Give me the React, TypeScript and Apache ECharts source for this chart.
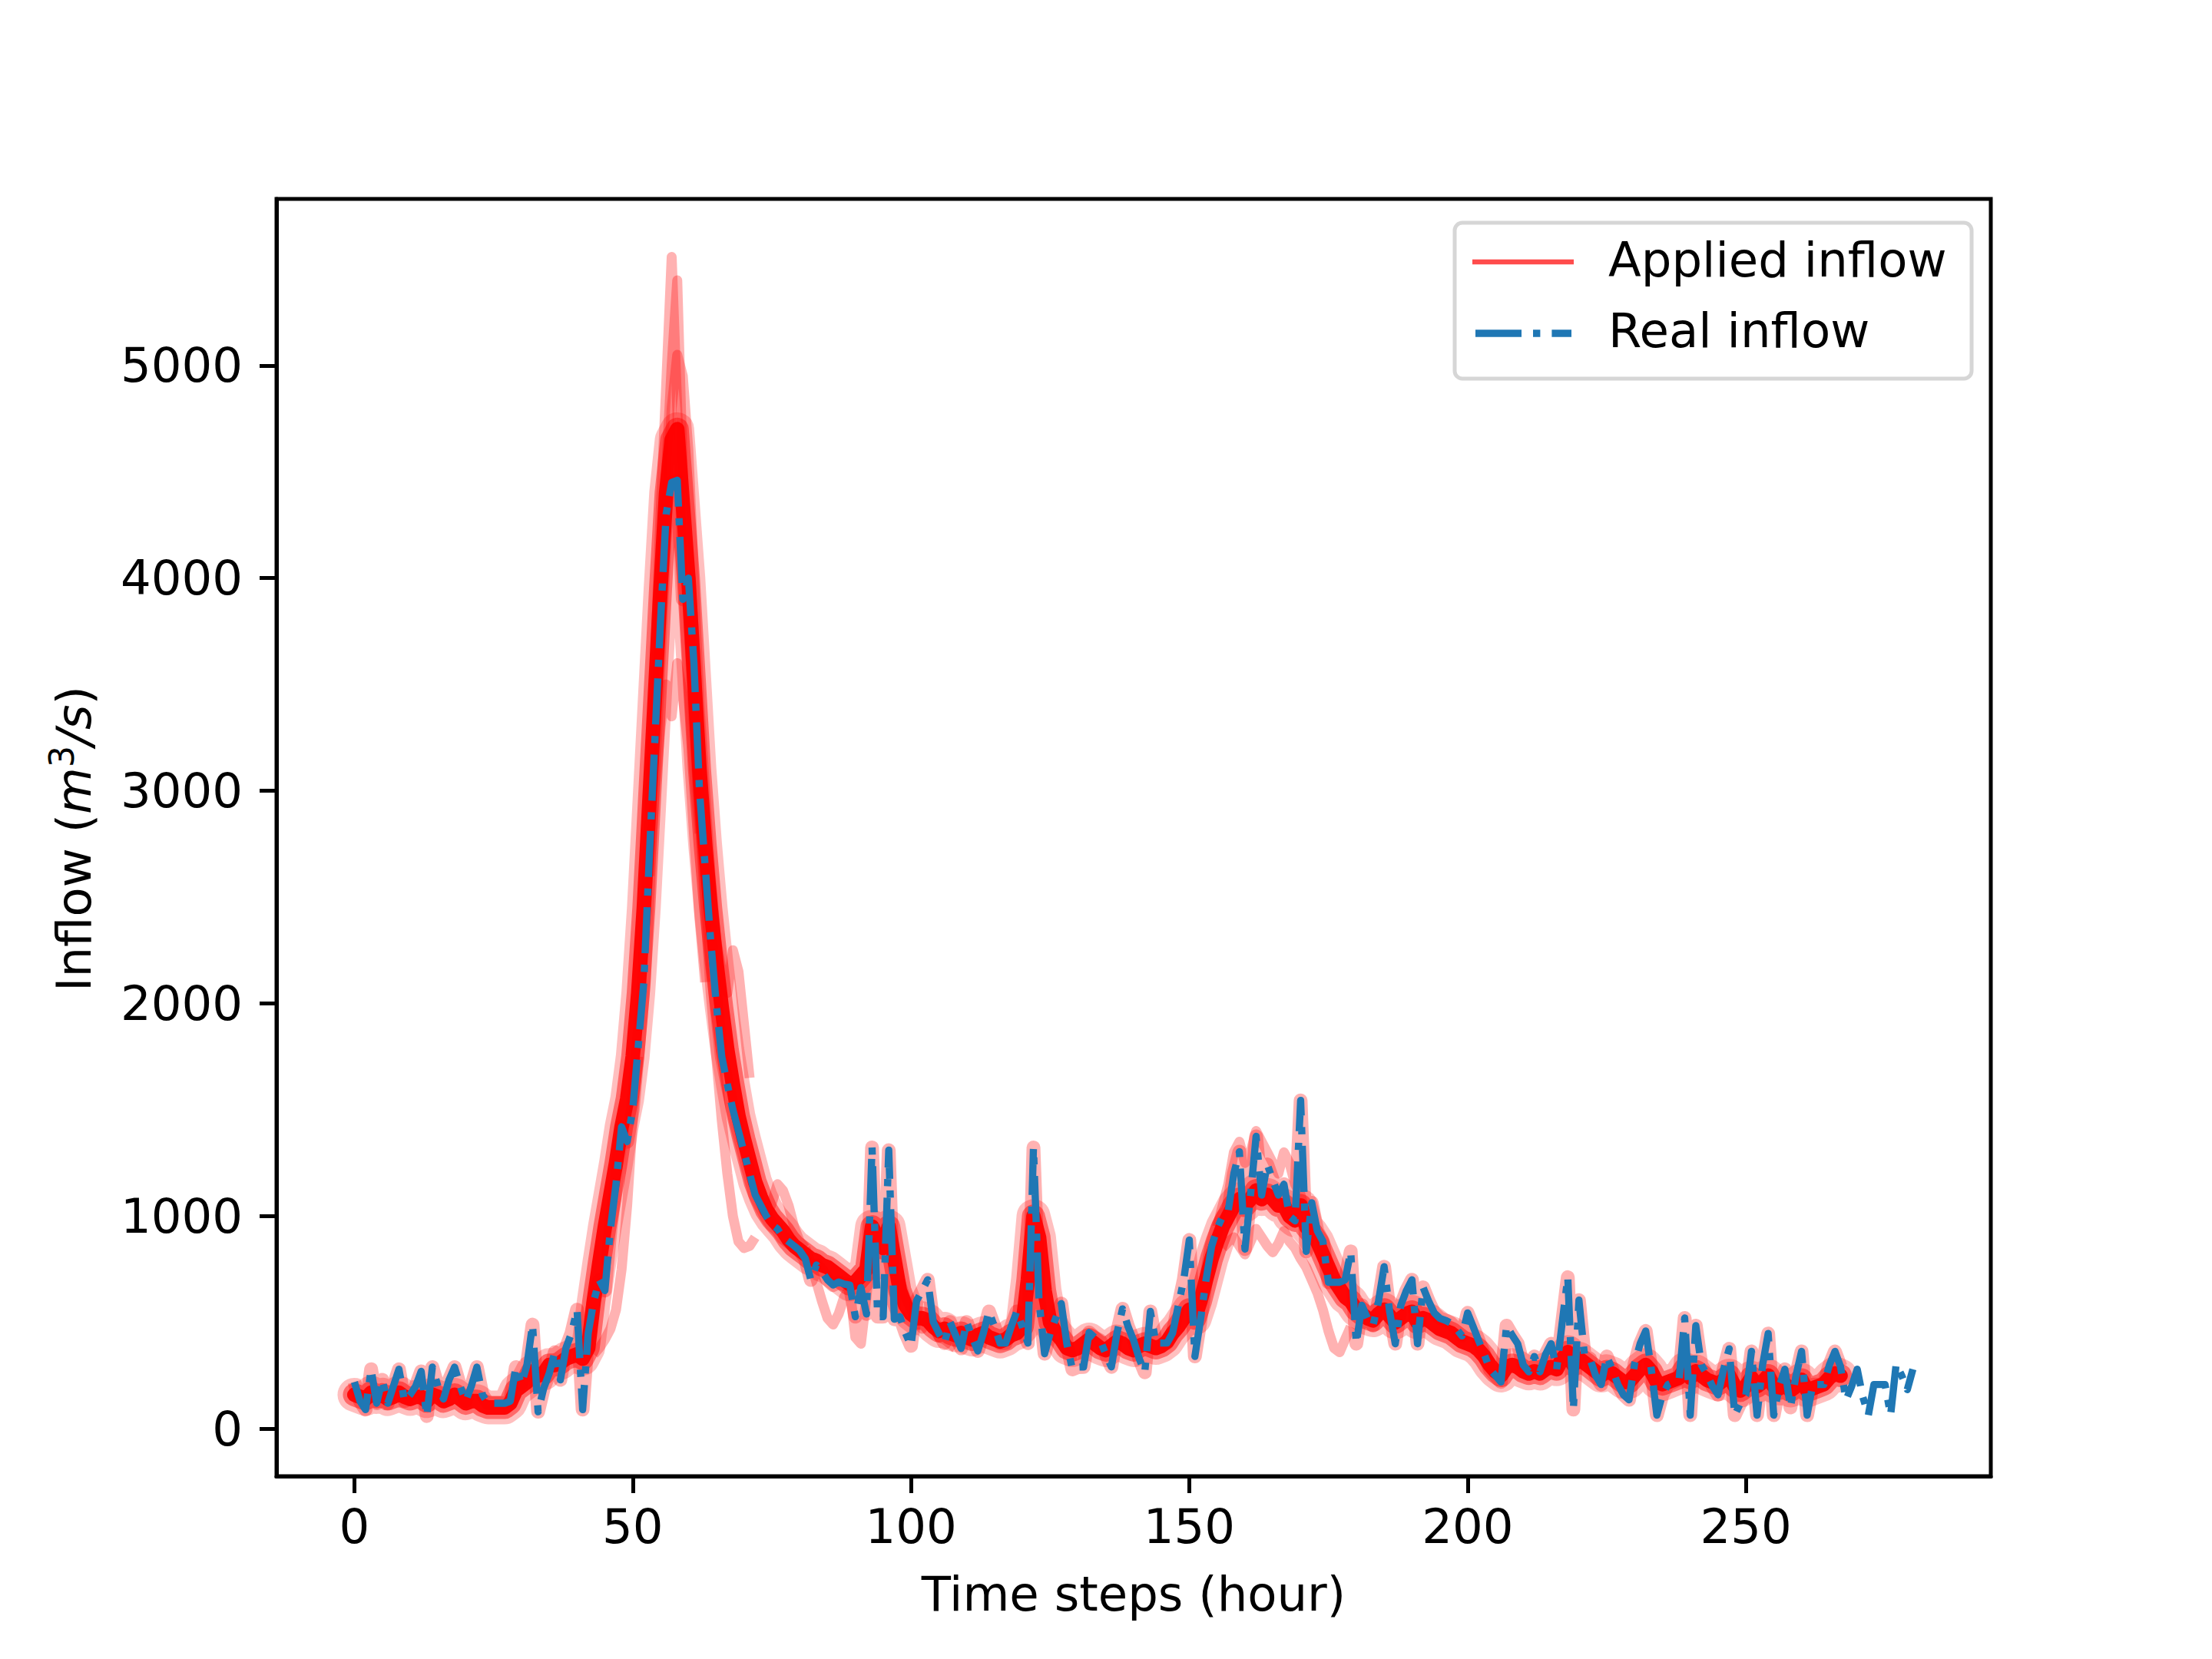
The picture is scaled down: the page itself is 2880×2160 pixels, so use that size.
import React, { useEffect, useRef } from "react";
import * as echarts from "echarts";

// ---------- data ----------
const xTicks = [0, 50, 100, 150, 200, 250];
const yTicks = [0, 1000, 2000, 3000, 4000, 5000];

// Real inflow, one value per hour, hours 0..280
const realInflow = [
  220, 130, 90, 280, 120, 230, 120, 200, 280, 130,
  160, 200, 270, 60, 290, 200, 140, 230, 290, 200,
  130, 200, 290, 160, 120, 120, 120, 120, 130, 290,
  210, 300, 490, 80, 190, 260, 360, 230, 380, 450,
  560, 90, 450, 600, 700, 650, 940, 1150, 1420, 1350,
  1500, 1800, 2100, 2700, 3250, 3800, 4300, 4450, 4460, 3900,
  4000, 3600, 3000, 2650, 2300, 2000, 1750, 1620, 1500, 1400,
  1300, 1200, 1100, 1050, 1000, 960, 940, 900, 880, 860,
  838, 800, 700, 770, 740, 700, 676, 690, 680, 676,
  527, 664, 540, 1323, 527, 527, 1310, 515, 527, 450,
  390, 602, 650, 701, 502, 450, 403, 502, 440, 378,
  502, 430, 366, 450, 552, 480, 403, 403, 480, 552,
  480, 403, 1323, 602, 353, 450, 520, 589, 400, 279,
  290, 291, 453, 430, 415, 350, 291, 450, 564, 480,
  415, 330, 266, 552, 403, 403, 403, 450, 577, 700,
  888, 340, 510, 700, 857, 942, 1000, 1026, 1200, 1303,
  845, 1100, 1375, 1099, 1243, 1170, 1099, 1150, 1000, 978,
  1544, 834, 1063, 930, 882, 689, 689, 689, 700, 834,
  400, 581, 520, 485, 600, 762, 550, 400, 581, 650,
  701, 400, 665, 600, 545, 520, 510, 497, 470, 437,
  545, 480, 413, 350, 280, 250, 220, 485, 440, 400,
  300, 268, 340, 268, 350, 400, 280, 500, 713, 90,
  605, 346, 329, 250, 208, 340, 280, 208, 160, 136,
  305, 400, 460, 280, 64, 160, 208, 220, 232, 521,
  64, 485, 300, 256, 200, 160, 280, 376, 64, 120,
  160, 364, 64, 300, 448, 64, 200, 280, 100, 250,
  364, 64, 208, 208, 208, 300, 364, 292, 136, 200,
  280, 150, 64, 208, 208, 208, 64, 305, 250, 184,
  280,
];

// Central band of the applied-inflow ensemble, hours 0..267
const appliedCore = [
  160, 150, 140, 170, 150, 160, 140, 150, 170, 150,
  140, 150, 150, 130, 160, 150, 130, 140, 160, 140,
  120, 130, 130, 110, 100, 100, 100, 100, 120, 180,
  200, 220, 270, 250, 260, 300, 300, 310, 330, 340,
  350, 330, 380, 600, 780, 950, 1100, 1250, 1420, 1550,
  1750, 2050, 2450, 2950, 3450, 3950, 4400, 4650, 4700, 4350,
  4000, 3550, 3100, 2750, 2450, 2200, 1980, 1780, 1620, 1470,
  1360, 1260, 1160, 1090, 1030, 990, 960, 930, 890, 860,
  840, 820, 800, 790, 770, 760, 740, 720, 700, 680,
  690, 720, 750, 950, 900, 850, 950, 800, 650, 580,
  540, 520, 520, 510, 480, 460, 470, 450, 440, 450,
  430, 420, 440, 450, 430, 420, 410, 420, 440, 450,
  480, 700, 1000, 900, 650, 500, 450, 420, 380, 370,
  380, 400, 420, 400, 380, 370, 390, 410, 400, 380,
  370, 390, 400, 390, 380, 390, 410, 450, 480, 520,
  560, 520, 600, 700, 800, 880, 950, 1000, 1050, 1080,
  1050, 1080, 1120, 1080, 1100, 1080, 1050, 1050, 1000, 980,
  1050, 950, 920, 880, 820, 760, 700, 660, 620, 600,
  560, 540, 520, 510, 540, 560, 530, 500, 520, 540,
  550, 500, 520, 510, 490, 470, 460, 450, 430, 410,
  400, 390, 370, 340, 300, 270, 250, 290, 300, 290,
  270, 260, 270, 260, 280, 290, 280, 330, 360, 300,
  330, 310, 290, 270, 250, 270, 260, 240, 220, 220,
  250, 280, 300, 270, 220, 210, 220, 230, 240, 280,
  240, 270, 250, 230, 220, 210, 230, 250, 200, 180,
  200, 240, 200, 220, 250, 200, 190, 210, 180, 200,
  230, 180, 190, 200, 210, 240, 260, 250,
];

// Individual ensemble members where they leave the central band: [hour, inflow]
const peakMemberA = [[53, 2900], [54, 3600], [55, 4300], [56, 4900], [57, 5510], [58, 4800], [59, 4000], [60, 3500], [61, 3100], [62, 2800]];
const peakMemberB = [[54, 3300], [55, 3900], [56, 4500], [57, 5000], [58, 5400], [59, 4500], [60, 3800], [61, 3300], [62, 2900], [63, 2600]];
const peakMemberC = [[55, 3800], [56, 4300], [57, 4800], [58, 5050], [59, 4950], [60, 4600], [61, 4000], [62, 3400], [63, 3000], [64, 2600], [65, 2300], [66, 2150], [67, 2050], [68, 2250], [69, 2150], [70, 1900], [71, 1650]];
const peakMemberD = [[53, 2600], [54, 3000], [55, 3300], [56, 3500], [57, 3350], [58, 3600], [59, 3450], [60, 3200], [61, 2800], [62, 2400], [63, 2100]];
const descentMemberE = [[60, 3900], [61, 3400], [62, 2900], [63, 2450], [64, 2050], [65, 1750], [66, 1450], [67, 1200], [68, 1000], [69, 880], [70, 850], [71, 860], [72, 900]];
const riseMemberF = [[43, 350], [44, 380], [45, 420], [46, 470], [47, 560], [48, 750], [49, 1050], [50, 1450], [51, 1750]];
const recessionMemberG = [[74, 1000], [75, 1060], [76, 1150], [77, 1120], [78, 1050], [79, 950], [80, 880], [81, 850]];
const lowMemberH = [[81, 850], [82, 780], [83, 690], [84, 600], [85, 520], [86, 490], [87, 540], [88, 620], [89, 660], [90, 430], [91, 400], [92, 620], [93, 900]];
const lowMemberI = [[98, 700], [99, 620], [100, 560], [101, 500], [102, 470], [103, 520], [104, 480], [105, 430], [106, 420], [107, 400], [108, 380]];
const secondPeakHigh = [[155, 950], [156, 1050], [157, 1150], [158, 1300], [159, 1350], [160, 1250], [161, 1300], [162, 1400], [163, 1350], [164, 1300], [165, 1250], [166, 1200], [167, 1300], [168, 1250], [169, 1150], [170, 1100], [171, 1000], [172, 950], [173, 900]];
const secondPeakLow = [[156, 850], [157, 880], [158, 900], [159, 860], [160, 820], [161, 880], [162, 940], [163, 900], [164, 860], [165, 830], [166, 870], [167, 930], [168, 880], [169, 850], [170, 800], [171, 760], [172, 700], [173, 640], [174, 560], [175, 460], [176, 380], [177, 360], [178, 420], [179, 480]];

const members = [peakMemberA, peakMemberB, peakMemberC, peakMemberD, descentMemberE, riseMemberF, recessionMemberG, lowMemberH, lowMemberI, secondPeakHigh, secondPeakLow];

const legendLabels = ["Applied inflow", "Real inflow"];
const xName = "Time steps (hour)";

// ---------- chart ----------
const FONT = "DejaVu Sans";
const FS = 62.5;
const BLUE = "#1f77b4";
const DASHDOT = [60, 15, 9.4, 15];

const pairs = (arr: number[]) => arr.map((v, i) => [i, v]);

export default function App() {
  const ref = useRef<HTMLDivElement>(null);
  useEffect(() => {
    if (!ref.current) return;
    const chart = echarts.init(ref.current, undefined, { renderer: "svg" });

    const pink = (data: any, width: number, name: string) => ({
      type: "line",
      name,
      data,
      symbol: "none",
      silent: true,
      lineStyle: { color: "rgba(255,0,0,0.3)", width, cap: "butt", join: "round" },
      z: 2,
    });

    const series: any[] = [];
    series.push(pink(pairs(realInflow.slice(0, appliedCore.length)), 18, "Applied inflow"));
    members.forEach((m) => series.push(pink(m, 13, "Applied inflow")));
    const coreLayers = [
      { width: 44, color: "rgba(255,0,0,0.25)" },
      { width: 30, color: "rgba(255,0,0,0.45)" },
      { width: 19, color: "rgba(255,0,0,0.95)" },
    ];
    coreLayers.forEach((l) =>
      series.push({
        type: "line",
        name: "Applied inflow",
        data: pairs(appliedCore),
        symbol: "none",
        silent: true,
        lineStyle: { color: l.color, width: l.width, cap: "round", join: "round" },
        z: 3,
      })
    );
    series.push({
      type: "line",
      name: "Real inflow",
      data: pairs(realInflow),
      symbol: "none",
      silent: true,
      lineStyle: { color: BLUE, width: 9.4, type: DASHDOT, cap: "butt", join: "round" },
      z: 5,
    });

    const legendX = 1894, legendY = 290, legendW = 673, legendH = 203;

    chart.setOption({
      animation: false,
      backgroundColor: "#ffffff",
      textStyle: { fontFamily: FONT },
      grid: {
        left: 360,
        right: 288,
        top: 259,
        bottom: 238,
        show: true,
        borderColor: "#000",
        borderWidth: 5,
        backgroundColor: "transparent",
        containLabel: false,
      },
      xAxis: {
        type: "value",
        min: -14,
        max: 294,
        splitLine: { show: false },
        axisLine: { show: true, onZero: false, lineStyle: { color: "#000", width: 5 } },
        axisTick: { show: true, inside: false, length: 22, lineStyle: { color: "#000", width: 5 }, customValues: xTicks },
        axisLabel: {
          show: true, margin: 34, fontSize: FS, fontFamily: FONT, color: "#000", customValues: xTicks,
          formatter: (v: number) => String(v),
        },
      },
      yAxis: {
        type: "value",
        min: -223,
        max: 5783,
        splitLine: { show: false },
        axisLine: { show: true, onZero: false, lineStyle: { color: "#000", width: 5 } },
        axisTick: { show: true, inside: false, length: 22, lineStyle: { color: "#000", width: 5 }, customValues: yTicks },
        axisLabel: {
          show: true, margin: 44, fontSize: FS, fontFamily: FONT, color: "#000", customValues: yTicks,
          padding: [0, 0, 12, 0],
          formatter: (v: number) => String(v),
        },
      },
      series,
      graphic: [
        {
          type: "text",
          x: 1476,
          y: 2075,
          z: 10,
          style: { text: xName, fontSize: FS, fontFamily: FONT, fill: "#000", align: "center", verticalAlign: "middle" },
        },
        {
          type: "text",
          x: 96,
          y: 1092,
          rotation: Math.PI / 2,
          z: 10,
          style: {
            text: "{a|Inflow (}{i|m}{s|3}{i|/s}{a|)}",
            align: "center",
            verticalAlign: "middle",
            fill: "#000",
            rich: {
              a: { fontSize: FS, fontFamily: FONT, fill: "#000", lineHeight: 75 },
              i: { fontSize: FS, fontFamily: FONT, fontStyle: "italic", fill: "#000", lineHeight: 75 },
              s: { fontSize: 44, fontFamily: FONT, fill: "#000", lineHeight: 44, verticalAlign: "top" },
            },
          },
        },
        {
          type: "rect",
          z: 20,
          shape: { x: legendX, y: legendY, width: legendW, height: legendH, r: 10 },
          style: { fill: "rgba(255,255,255,0.8)", stroke: "#d6d6d6", lineWidth: 5 },
        },
        {
          type: "line",
          z: 21,
          shape: { x1: 1917, y1: 341, x2: 2049, y2: 341 },
          style: { stroke: "rgba(255,0,0,0.7)", lineWidth: 6.5 },
        },
        {
          type: "line",
          z: 21,
          shape: { x1: 1921, y1: 434, x2: 2046, y2: 434 },
          style: { stroke: BLUE, lineWidth: 9.4, lineDash: DASHDOT },
        },
        {
          type: "text",
          z: 21,
          x: 2094,
          y: 338,
          style: { text: legendLabels[0], fontSize: FS, fontFamily: FONT, fill: "#000", align: "left", verticalAlign: "middle" },
        },
        {
          type: "text",
          z: 21,
          x: 2094,
          y: 430,
          style: { text: legendLabels[1], fontSize: FS, fontFamily: FONT, fill: "#000", align: "left", verticalAlign: "middle" },
        },
      ],
    });
    return () => chart.dispose();
  }, []);
  return (
    <div
      ref={ref}
      style={{ position: "absolute", left: 0, top: 0, width: 2880, height: 2160, background: "#fff" }}
    />
  );
}
